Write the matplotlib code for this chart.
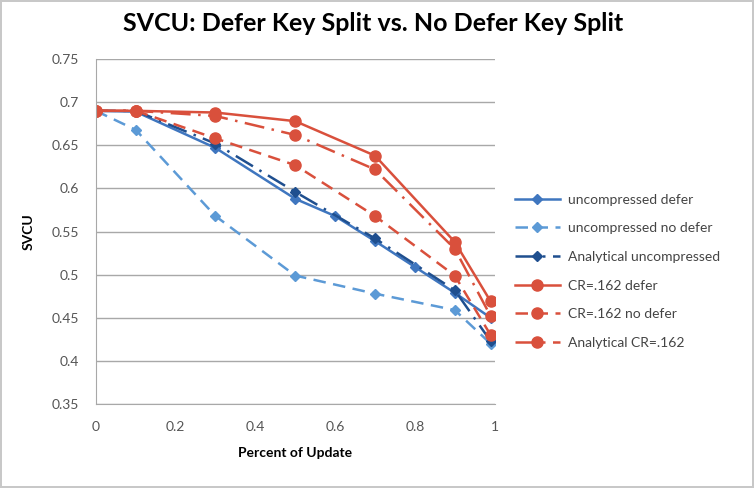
import numpy as np
import matplotlib
matplotlib.use("Agg")
import matplotlib.pyplot as plt

plt.rcParams['font.family'] = ['Lato', 'DejaVu Sans']

# data
x_full = [0, 0.1, 0.3, 0.5, 0.6, 0.7, 0.8, 0.9, 0.99]
x_part = [0, 0.1, 0.3, 0.5, 0.7, 0.9, 0.99]

unc_defer = [0.69, 0.689, 0.647, 0.588, 0.568, 0.539, 0.509, 0.479, 0.45]
unc_nodefer = [0.69, 0.668, 0.568, 0.499, 0.478, 0.459, 0.42]
ana_unc = [0.69, 0.69, 0.652, 0.596, 0.542, 0.482, 0.423]
cr_defer = [0.69, 0.69, 0.688, 0.678, 0.638, 0.538, 0.469]
cr_nodefer = [0.69, 0.69, 0.658, 0.627, 0.568, 0.499, 0.43]
ana_cr = [0.69, 0.69, 0.684, 0.662, 0.622, 0.53, 0.452]

labels = ["uncompressed defer", "uncompressed no defer", "Analytical uncompressed",
          "CR=.162 defer", "CR=.162 no defer", "Analytical CR=.162"]

fig = plt.figure(figsize=(7.54, 4.88), dpi=100, edgecolor='#c8c8c8', linewidth=1.5)
ax = fig.add_axes([0.127, 0.172, 0.529, 0.707])

blue = '#3f76bf'
light_blue = '#5c9ad6'
dark_blue = '#1f4f8f'
red = '#d9503c'

ax.plot(x_full, unc_defer, color=blue, lw=1.8, marker='D', ms=5, label=labels[0])
ax.plot(x_part, unc_nodefer, color=light_blue, lw=1.8, ls=(0, (5, 3)), marker='D', ms=5, label=labels[1])
ax.plot(x_part, ana_unc, color=dark_blue, lw=1.8, ls=(0, (8, 3, 1, 3)), marker='D', ms=5, label=labels[2])
ax.plot(x_part, cr_defer, color=red, lw=1.8, marker='o', ms=8, label=labels[3])
ax.plot(x_part, cr_nodefer, color=red, lw=1.8, ls=(0, (5, 3)), marker='o', ms=8, label=labels[4])
ax.plot(x_part, ana_cr, color=red, lw=1.8, ls=(0, (8, 3, 1, 3)), marker='o', ms=8, label=labels[5])

ax.set_xlim(0, 1)
ax.set_ylim(0.35, 0.75)
ax.set_xticks([0, 0.2, 0.4, 0.6, 0.8, 1])
ax.set_xticklabels(['0', '0.2', '0.4', '0.6', '0.8', '1'])
ax.set_yticks(np.arange(0.35, 0.751, 0.05))
ax.set_yticklabels(['0.35', '0.4', '0.45', '0.5', '0.55', '0.6', '0.65', '0.7', '0.75'])
ax.grid(axis='y', color='#a8a8a8', lw=1)
ax.set_axisbelow(True)
for s in ['top', 'right']:
    ax.spines[s].set_visible(False)
for s in ['left', 'bottom']:
    ax.spines[s].set_color('#a8a8a8')
ax.tick_params(length=0, labelsize=10, colors='#555555', pad=12)

ax.set_xlabel("Percent of Update", fontsize=10, fontweight='bold', labelpad=10)
ax.set_ylabel("SVCU", fontsize=10, fontweight='bold', labelpad=12)
fig.suptitle("SVCU: Defer Key Split vs. No Defer Key Split", x=0.495, y=0.975,
             fontsize=18, fontweight='bold')

ax.legend(loc='center left', bbox_to_anchor=(1.02, 0.385), frameon=False,
          fontsize=10, labelspacing=1.2, handlelength=3.2, handletextpad=0.6,
          labelcolor='#444444')

fig.savefig("out.png", dpi=100)
